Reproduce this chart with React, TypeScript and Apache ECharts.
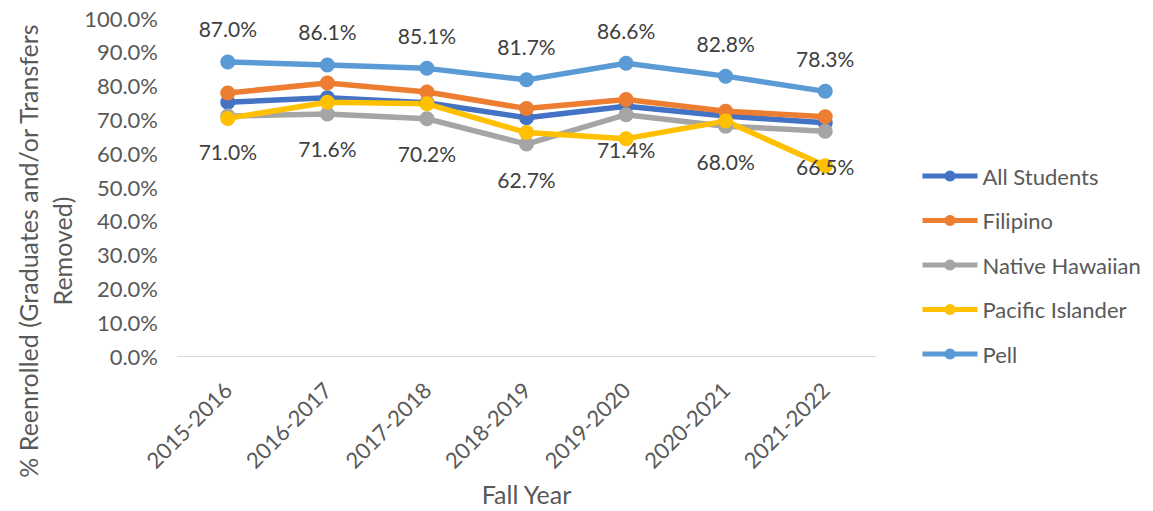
import React, { useEffect, useRef } from "react";
import * as echarts from "echarts";

const years = ["2015-2016", "2016-2017", "2017-2018", "2018-2019", "2019-2020", "2020-2021", "2021-2022"];
const allStudents = [75.1, 76.4, 74.9, 70.5, 73.9, 71.0, 69.0];
const filipino = [77.8, 80.8, 78.1, 73.2, 75.9, 72.4, 70.8];
const nativeHawaiian = [71.0, 71.6, 70.2, 62.7, 71.4, 68.0, 66.5];
const pacificIslander = [70.3, 75.1, 74.6, 66.1, 64.3, 69.5, 56.3];
const pell = [87.0, 86.1, 85.1, 81.7, 86.6, 82.8, 78.3];

const FONT = "Lato, 'Liberation Sans', sans-serif";

export default function App() {
  const ref = useRef<HTMLDivElement>(null);
  useEffect(() => {
    if (!ref.current) return;
    const chart = echarts.init(ref.current, undefined, { renderer: "svg" });
    const mk = (name: string, data: number[], color: string, label?: "top" | "bottom") => ({
      name,
      type: "line",
      data,
      symbol: "circle",
      symbolSize: 15,
      lineStyle: { width: 5.5, color },
      itemStyle: { color },
      label: label
        ? {
            show: true,
            position: label,
            distance: label === "top" ? 15 : 17,
            formatter: (p: any) => p.value.toFixed(1) + "%",
            color: "#404040",
            fontSize: 21,
            fontFamily: FONT,
          }
        : { show: false },
    });
    chart.setOption({
      animation: false,
      textStyle: { fontFamily: FONT },
      grid: { left: 178, right: 278, top: 18, bottom: 153, containLabel: false },
      legend: {
        orient: "vertical",
        left: 915,
        top: 160,
        itemGap: 22.5,
        itemWidth: 55,
        itemHeight: 14,
        lineStyle: { width: 5 },
        textStyle: { color: "#595959", fontSize: 22, fontFamily: FONT },
        data: ["All Students", "Filipino", "Native Hawaiian", "Pacific Islander", "Pell"],
      },
      xAxis: {
        type: "category",
        data: years,
        boundaryGap: true,
        axisLine: { lineStyle: { color: "#d9d9d9", width: 1 } },
        axisTick: { show: false },
        axisLabel: { rotate: 45, color: "#595959", fontSize: 22, fontFamily: FONT, margin: 30 },
        name: "Fall Year",
        nameLocation: "middle",
        nameGap: 125,
        nameTextStyle: { color: "#595959", fontSize: 25, fontFamily: FONT },
      },
      yAxis: {
        type: "value",
        min: 0,
        max: 100,
        interval: 10,
        axisLine: { show: false },
        axisTick: { show: false },
        splitLine: { show: false },
        axisLabel: {
          color: "#595959",
          fontSize: 22,
          fontFamily: FONT,
          margin: 20,
          formatter: (v: number) => v.toFixed(1) + "%",
        },
      },
      graphic: [
        {
          type: "text",
          x: 45,
          y: 251,
          rotation: Math.PI / 2,
          style: {
            text: "% Reenrolled (Graduates and/or Transfers\nRemoved)",
            fill: "#595959",
            fontSize: 25,
            fontFamily: FONT,
            align: "center",
            verticalAlign: "middle",
            lineHeight: 34,
          },
        },
      ],
      series: [
        mk("All Students", allStudents, "#4472C4"),
        mk("Filipino", filipino, "#ED7D31"),
        mk("Native Hawaiian", nativeHawaiian, "#A5A5A5", "bottom"),
        mk("Pacific Islander", pacificIslander, "#FFC000"),
        mk("Pell", pell, "#5B9BD5", "top"),
      ],
    });
    return () => chart.dispose();
  }, []);
  return (
    <div
      ref={ref}
      style={{ position: "absolute", left: 0, top: 0, width: 1153, height: 511 }}
    />
  );
}
